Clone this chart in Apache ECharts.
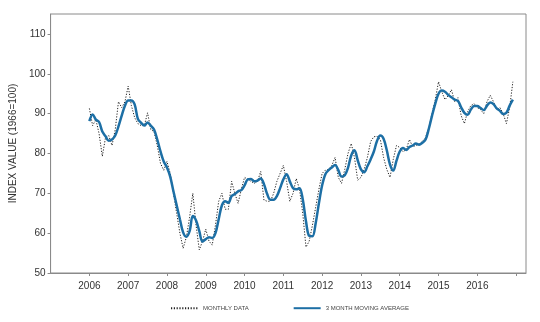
<!DOCTYPE html>
<html>
<head>
<meta charset="utf-8">
<script src="https://cdn.jsdelivr.net/npm/echarts@6/dist/echarts.min.js"></script>
<style>html,body{margin:0;padding:0;background:#fff;}#c{width:540px;height:322px;}</style>
</head>
<body>
<div id="c"></div>
<script>
// Monthly series: Jan 2006 .. Dec 2016
const startYear = 2006;
const yearLabels = ['2006','2007','2008','2009','2010','2011','2012','2013','2014','2015','2016'];
const monthlyData = [
  91.3, 87.0, 88.5, 85.0, 79.3, 84.0, 84.5, 82.0, 86.0, 93.0, 91.5, 93.0,
  96.9, 92.0, 89.0, 87.5, 87.0, 87.0, 90.2, 86.0, 85.5, 82.0, 77.5, 75.8,
  78.0, 75.0, 70.0, 65.0, 60.0, 56.2, 59.0, 64.0, 70.0, 62.0, 55.8, 58.0,
  61.0, 58.0, 57.0, 62.0, 68.0, 70.0, 66.0, 66.0, 73.0, 70.0, 67.5, 71.0,
  74.0, 73.5, 73.0, 72.5, 73.0, 75.5, 68.3, 68.0, 68.0, 70.0, 73.0, 75.0,
  77.0, 73.0, 68.0, 70.0, 73.7, 71.0, 65.0, 56.5, 58.0, 62.0, 66.5, 71.0,
  75.0, 75.8, 76.0, 77.0, 79.0, 74.0, 72.5, 76.0, 80.0, 82.5, 79.0, 73.3,
  74.0, 76.0, 79.0, 83.0, 84.2, 84.3, 83.5, 79.0, 76.0, 74.0, 78.5, 82.0,
  81.5, 80.4, 81.0, 83.5, 81.7, 82.0, 82.3, 83.0, 84.0, 86.5, 90.0, 93.5,
  98.0, 95.5, 93.5, 94.5, 96.0, 93.0, 94.0, 89.5, 87.5, 90.5, 92.0, 92.5,
  91.5, 91.0, 90.0, 93.0, 94.6, 93.0, 91.0, 91.5, 90.0, 87.5, 91.5, 98.0
];
const movingAvgData = [
  88.1, 89.8, 88.5, 87.9, 85.5, 84.3, 83.2, 83.5, 84.5, 86.8, 89.5, 92.0,
  93.3, 93.3, 92.3, 88.7, 87.7, 87.0, 87.8, 87.0, 86.0, 83.5, 80.5, 78.0,
  76.5, 74.2, 70.5, 67.0, 63.5, 60.2, 59.1, 60.5, 64.3, 63.2, 60.5, 57.9,
  58.5, 59.0, 58.8, 60.0, 63.5, 67.0, 68.0, 67.6, 69.3, 69.8, 70.5, 70.8,
  72.0, 73.5, 73.6, 73.0, 73.2, 73.7, 72.3, 69.8, 68.4, 68.4, 69.3, 71.3,
  73.5, 74.8, 73.0, 71.3, 71.0, 71.3, 68.5, 63.0, 59.3, 59.2, 62.5, 67.5,
  72.0, 74.8, 75.8, 76.5, 77.1, 75.8, 74.2, 74.5, 76.4, 79.5, 80.8, 78.3,
  76.0, 75.3, 76.8, 78.5, 80.5, 83.2, 84.5, 83.7, 80.8, 77.2, 75.7, 78.2,
  80.5, 81.4, 80.9, 81.6, 82.0, 82.5, 82.2, 82.7, 83.5, 86.2, 89.5, 92.5,
  95.0, 95.8, 95.5, 94.7, 94.1, 93.5, 93.2, 91.6, 90.2, 89.7, 91.0, 91.9,
  91.9, 91.4, 90.9, 92.0, 92.8, 92.4, 91.3, 90.7, 89.9, 90.2, 92.0, 93.5
];
const seriesNames = ['MONTHLY DATA', '3 MONTH MOVING AVERAGE'];

const toPairs = arr => arr.map((v, i) => [startYear + i / 12, v]);

const chart = echarts.init(document.getElementById('c'), null, {renderer: 'canvas'});
const font = 'Liberation Sans, Arial, sans-serif';
chart.setOption({
  animation: false,
  backgroundColor: '#fff',
  grid: {left: 50.5, right: 14, top: 14, bottom: 49, show: true, borderColor: '#8a8a8a', borderWidth: 1, containLabel: false},
  legend: {
    left: 170, top: 305, padding: 0,
    itemWidth: 27, itemHeight: 8, itemGap: 44,
    itemStyle: {opacity: 0},
    textStyle: {fontSize: 6, color: '#444', fontFamily: font},
    data: seriesNames
  },
  xAxis: {
    type: 'value', min: 2005, max: 2017.255, interval: 1,
    axisLine: {lineStyle: {color: '#8a8a8a'}},
    axisTick: {show: true, length: 3, lineStyle: {color: '#8a8a8a'}},
    splitLine: {show: false},
    axisLabel: {
      fontSize: 10, color: '#333', fontFamily: font, margin: 8,
      showMinLabel: false, showMaxLabel: false,
      formatter: v => { const s = String(Math.round(v)); return (Number.isInteger(v) && yearLabels.includes(s)) ? s : ''; }
    }
  },
  yAxis: {
    type: 'value', min: 50, max: 115, interval: 10,
    name: 'INDEX VALUE (1966=100)', nameLocation: 'middle', nameGap: 26,
    nameTextStyle: {fontSize: 10, color: '#333', fontFamily: font},
    axisLine: {show: true, lineStyle: {color: '#8a8a8a'}},
    axisTick: {show: true, length: 3, lineStyle: {color: '#8a8a8a'}},
    splitLine: {show: false},
    axisLabel: {fontSize: 10, color: '#333', fontFamily: font, margin: 5, showMaxLabel: false}
  },
  series: [
    {
      name: seriesNames[0], type: 'line', symbol: 'none', smooth: false,
      data: toPairs(monthlyData),
      lineStyle: {color: '#222', width: 1, type: [1.2, 1.6]},
      itemStyle: {color: '#222'}, z: 2
    },
    {
      name: seriesNames[1], type: 'line', symbol: 'none', smooth: 0.35,
      data: toPairs(movingAvgData),
      lineStyle: {color: '#1d6fa5', width: 2.5},
      itemStyle: {color: '#1d6fa5'}, z: 3
    }
  ]
});
</script>
</body>
</html>
